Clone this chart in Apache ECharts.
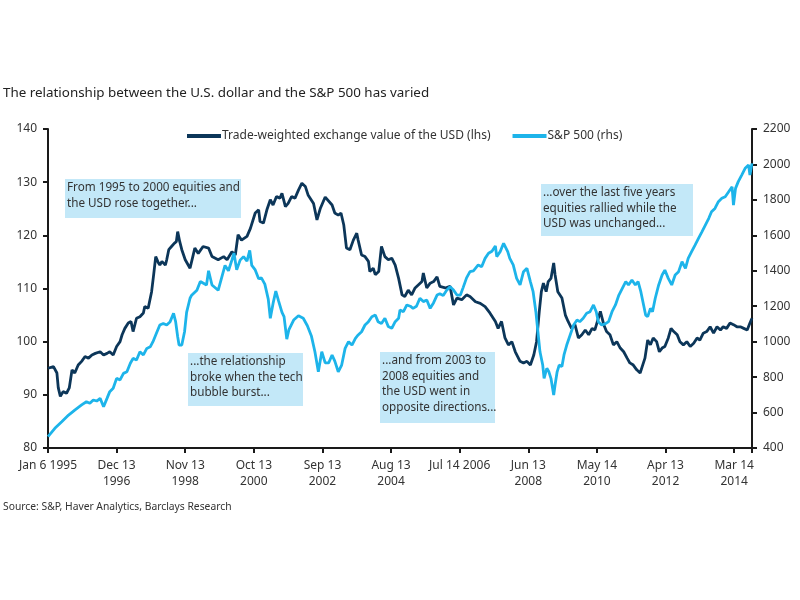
<!DOCTYPE html>
<html>
<head>
<meta charset="utf-8">
<script src="https://cdn.jsdelivr.net/npm/echarts@6/dist/echarts.min.js"></script>
<style>html,body{margin:0;padding:0;background:#fff}#c{width:800px;height:600px}</style>
</head>
<body>
<div id="c"></div>
<script>
// x = weeks since Jan 6 1995 (weekly data)
const tickLabels = ['Jan 6 1995', 'Dec 13\n1996', 'Nov 13\n1998', 'Oct 13\n2000', 'Sep 13\n2002', 'Aug 13\n2004', 'Jul 14 2006', 'Jun 13\n2008', 'May 14\n2010', 'Apr 13\n2012', 'Mar 14\n2014'];

const usdWeeks = [0,8,13,15,18,22,27,31,35,39,44,49,54,59,64,69,76,81,86,90,95,100,105,108,112,117,121,124,129,134,139,141,146,151,154,157,161,163,166,171,173,176,180,184,187,189,192,195,200,207,214,219,226,234,239,248,256,261,268,273,277,282,290,295,302,307,309,314,319,324,328,333,338,341,346,350,355,360,365,370,375,379,387,392,397,404,414,418,423,427,431,435,440,445,450,452,457,462,467,469,474,477,482,486,491,496,501,506,511,516,520,525,530,535,540,545,547,552,557,562,567,571,579,586,591,596,603,610,615,623,630,637,644,652,656,661,666,671,676,681,688,693,698,703,708,712,716,719,722,726,729,733,737,739,743,749,754,758,763,768,773,778,783,788,793,797,802,805,810,814,819,824,829,834,839,844,848,853,858,863,866,870,874,878,882,887,891,895,899,904,908,912,917,921,926,931,936,941,946,950,955,960,965,970,975,980,984,989,994,999,1004,1009,1014,1019,1023,1026];
const usdValues = [95.0,95.3,94.1,91.3,89.7,90.6,90.3,91.3,94.7,94.1,95.6,96.3,97.2,96.9,97.5,97.8,98.1,97.5,97.8,98.1,97.5,99.1,100.0,101.3,102.5,103.5,103.8,101.9,104.4,104.7,105.4,106.6,106.3,109.4,112.6,116.0,114.8,114.4,115.1,114.4,115.4,117.3,117.9,118.5,118.8,120.7,118.8,117.3,115.4,113.8,117.6,116.6,117.9,117.6,116.0,115.4,116.0,115.4,116.9,116.3,120.1,119.1,119.8,121.3,124.2,124.8,122.6,122.3,124.8,126.7,125.7,127.3,127.0,127.9,125.4,126.0,127.3,127.0,128.5,129.8,129.2,127.6,126.0,122.9,125.1,127.2,125.7,124.2,123.8,124.2,122.0,117.6,117.3,119.1,120.4,119.1,116.3,116.0,115.1,113.2,113.8,112.6,113.2,117.9,116.0,115.4,115.7,114.4,111.9,108.8,108.5,109.7,108.8,110.1,110.7,111.3,112.9,110.1,111.0,111.3,112.2,110.4,110.1,110.4,106.9,108.2,107.9,108.8,108.5,107.5,107.2,106.6,105.4,103.8,102.5,103.8,100.7,99.4,100.0,98.1,96.3,96.0,96.3,95.6,97.5,100.0,105.7,109.4,111.0,109.4,111.3,111.9,114.8,112.6,109.4,108.2,105.0,103.8,102.5,103.2,100.7,101.3,102.2,101.3,102.5,102.2,104.4,105.7,103.2,101.9,101.3,99.4,100.0,98.8,98.1,96.9,96.0,95.6,94.7,94.1,95.3,96.9,100.3,99.4,100.7,100.0,98.1,98.8,99.1,100.7,102.5,101.9,101.3,100.0,99.4,100.0,99.1,99.7,100.7,100.3,101.6,101.9,102.8,101.6,102.8,102.2,102.8,102.5,103.5,103.2,102.8,102.8,102.5,102.2,103.5,104.4];

const spxWeeks = [0,10,20,30,39,49,56,61,66,71,76,81,86,90,95,100,105,110,115,120,124,129,134,139,144,149,153,158,163,168,173,178,183,186,189,191,195,199,202,207,209,217,222,231,234,239,248,253,258,263,268,271,275,280,285,290,294,297,302,307,311,316,321,324,328,332,336,341,344,348,351,358,365,372,378,384,389,394,399,404,409,414,418,423,428,433,438,443,448,452,457,462,467,472,477,481,486,491,496,501,506,511,513,518,523,528,532,537,542,547,552,557,562,567,571,576,581,586,591,596,601,605,610,615,620,627,632,637,642,647,652,654,659,664,666,670,673,678,683,688,693,698,703,707,711,714,717,721,723,727,730,733,737,739,742,745,749,752,756,761,766,771,775,780,785,790,795,799,802,807,812,817,822,827,832,837,842,846,851,856,860,864,868,871,874,878,881,885,890,895,899,904,909,914,919,924,929,933,938,943,948,953,958,963,967,972,977,982,987,992,997,999,1002,1006,1011,1016,1021,1023,1026];
const spxValues = [464,511,548,586,614,643,661,652,671,665,680,633,680,718,737,793,784,821,830,878,906,897,943,925,962,971,1000,1047,1094,1103,1094,1113,1160,1113,1028,981,981,1056,1165,1245,1260,1290,1340,1320,1400,1320,1290,1360,1430,1400,1460,1500,1405,1460,1480,1455,1515,1430,1405,1355,1360,1325,1240,1132,1216,1285,1230,1165,1141,1014,1066,1122,1146,1132,1090,1030,943,830,943,880,880,925,890,830,868,962,1000,981,1019,1038,1056,1094,1113,1141,1150,1113,1103,1132,1085,1075,1113,1132,1179,1169,1207,1200,1188,1200,1245,1226,1235,1188,1220,1263,1270,1260,1290,1310,1291,1263,1263,1305,1360,1395,1400,1433,1423,1470,1499,1510,1540,1480,1508,1555,1564,1508,1470,1433,1357,1320,1395,1414,1339,1282,1169,1056,943,868,793,850,830,793,699,755,830,868,860,925,981,1038,1094,1122,1113,1132,1160,1169,1207,1169,1113,1094,1100,1113,1169,1207,1263,1301,1339,1320,1348,1320,1339,1282,1207,1150,1141,1188,1169,1245,1320,1376,1404,1357,1320,1376,1395,1451,1414,1470,1508,1545,1583,1620,1658,1696,1733,1752,1790,1809,1818,1846,1874,1771,1865,1903,1940,1978,1997,1940,2006];

const usdName = 'Trade-weighted exchange value of the USD (lhs)';
const spxName = 'S&P 500 (rhs)';

const notes = [
  ['From 1995 to 2000 equities and', 'the USD rose together...'],
  ['...the relationship', 'broke when the tech', 'bubble burst...'],
  ['...and from 2003 to', '2008 equities and', 'the USD went in', 'opposite directions...'],
  ['...over the last five years', 'equities rallied while the', 'USD was unchanged...']
];

const FONT = '"Noto Sans", sans-serif';
const boxes = [
  {x: 65, y: 179, w: 176, h: 39},
  {x: 188, y: 353, w: 115, h: 53},
  {x: 380, y: 352, w: 115, h: 71},
  {x: 541, y: 184, w: 152, h: 52}
];
const graphics = [];
boxes.forEach((b, i) => {
  graphics.push({type: 'rect', left: b.x, top: b.y, shape: {width: b.w, height: b.h}, style: {fill: '#c3e8f8'}, z: 1});
  graphics.push({type: 'text', left: b.x + 2, top: b.y + 1, style: {text: notes[i].join('\n'), font: '11.7px ' + FONT, fill: '#333', lineHeight: 15.5}, z: 2});
});
graphics.push({type: 'text', left: 3, top: 502, style: {text: 'Source: S&P, Haver Analytics, Barclays Research', font: '10.3px ' + FONT, fill: '#333'}});

const chart = echarts.init(document.getElementById('c'));
chart.setOption({
  animation: false,
  backgroundColor: '#fff',
  title: {text: 'The relationship between the U.S. dollar and the S&P 500 has varied', left: -2, top: 82,
    textStyle: {fontSize: 13.4, fontWeight: 'normal', color: '#222', fontFamily: FONT}},
  legend: {left: 182, top: 125, itemWidth: 34, itemHeight: 4, itemGap: 22, icon: 'rect',
    textStyle: {fontSize: 12, color: '#333', fontFamily: FONT, padding: [0, 0, 0, -4]},
    data: [usdName, spxName]},
  grid: {left: 48, right: 48, top: 129, bottom: 152},
  xAxis: {type: 'value', min: 0, max: 1026, interval: 100,
    axisLine: {lineStyle: {color: '#1a1a1a', width: 2}},
    axisTick: {length: 5, lineStyle: {color: '#1a1a1a', width: 2}},
    axisLabel: {fontSize: 12, color: '#333', fontFamily: FONT, margin: 10, lineHeight: 16,
      formatter: v => (v % 100 === 0 && tickLabels[v / 100] !== undefined) ? tickLabels[v / 100] : ''},
    splitLine: {show: false}},
  yAxis: [
    {type: 'value', min: 80, max: 140, interval: 10, position: 'left',
      axisLine: {show: true, lineStyle: {color: '#1a1a1a', width: 2}},
      axisTick: {show: true, length: 5, lineStyle: {color: '#1a1a1a', width: 2}},
      axisLabel: {fontSize: 12, color: '#333', fontFamily: FONT, margin: 11, formatter: v => String(v)},
      splitLine: {show: false}},
    {type: 'value', min: 400, max: 2200, interval: 200, position: 'right',
      axisLine: {show: true, lineStyle: {color: '#1a1a1a', width: 2}},
      axisTick: {show: true, length: 5, lineStyle: {color: '#1a1a1a', width: 2}},
      axisLabel: {fontSize: 12, color: '#333', fontFamily: FONT, margin: 11, formatter: v => String(v)},
      splitLine: {show: false}}
  ],
  series: [
    {name: usdName, type: 'line', yAxisIndex: 0, showSymbol: false, symbol: 'none',
      lineStyle: {color: '#0c3659', width: 2.8}, itemStyle: {color: '#0c3659'},
      data: usdWeeks.map((w, i) => [w, usdValues[i]]), z: 3},
    {name: spxName, type: 'line', yAxisIndex: 1, showSymbol: false, symbol: 'none',
      lineStyle: {color: '#1db4ea', width: 2.8}, itemStyle: {color: '#1db4ea'},
      data: spxWeeks.map((w, i) => [w, spxValues[i]]), z: 4}
  ],
  graphic: graphics
});
</script>
</body>
</html>
